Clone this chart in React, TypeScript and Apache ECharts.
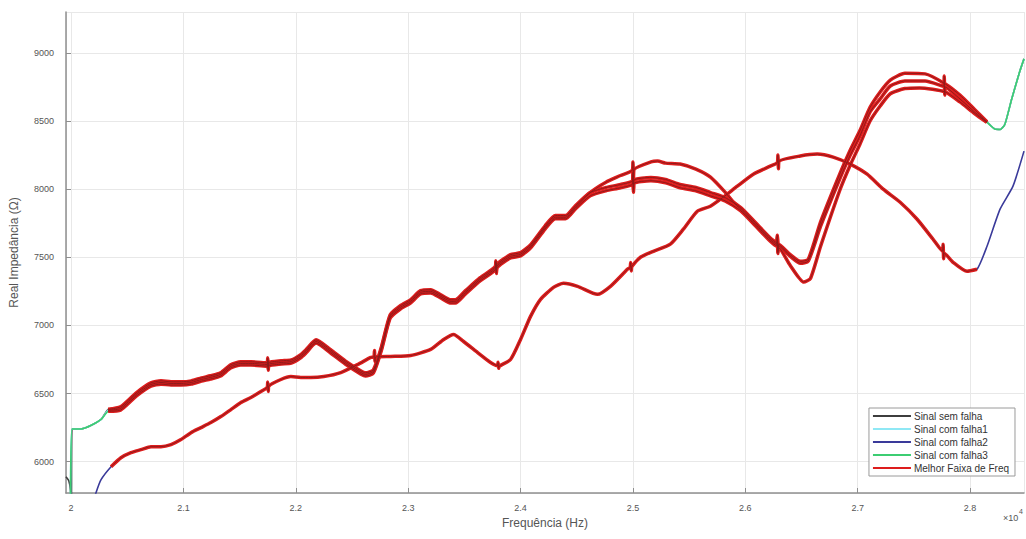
import React, { useEffect, useRef } from "react";
import * as echarts from "echarts";

// Frequency in units of 10^4 Hz, real impedance in ohms
const semFalha: [number, number][] = [
  [1.9955, 5890], [1.998, 5860], [1.9995, 5790], [2.0003, 5640], [2.0008, 6240], [2.009, 6240], [2.018, 6267], [2.027, 6312],
  [2.033, 6384], [2.044, 6402], [2.058, 6505], [2.071, 6578], [2.08, 6593], [2.089, 6586], [2.098, 6586], [2.107, 6593],
  [2.116, 6615], [2.124, 6630], [2.133, 6652], [2.142, 6711], [2.151, 6733], [2.16, 6733], [2.1745, 6725], [2.175, 6762],
  [2.1755, 6695], [2.176, 6727], [2.187, 6740], [2.196, 6747], [2.204, 6784], [2.209, 6821], [2.218, 6894], [2.231, 6821],
  [2.244, 6740], [2.258, 6666], [2.262, 6652], [2.269, 6674], [2.276, 6836], [2.284, 7078], [2.293, 7144], [2.302, 7188],
  [2.311, 7255], [2.32, 7262], [2.329, 7225], [2.338, 7188], [2.342, 7188], [2.351, 7255], [2.364, 7350], [2.3775, 7432],
  [2.378, 7475], [2.3785, 7405], [2.379, 7447], [2.391, 7519], [2.4, 7534], [2.409, 7593], [2.422, 7733], [2.431, 7806],
  [2.44, 7806], [2.449, 7880], [2.462, 7975], [2.476, 8012], [2.489, 8034], [2.4995, 8060], [2.5, 8122], [2.5005, 8002],
  [2.501, 8067], [2.516, 8086], [2.529, 8071], [2.542, 8034], [2.556, 8012], [2.569, 7975], [2.582, 7938], [2.596, 7865],
  [2.609, 7755], [2.622, 7644], [2.628, 7607], [2.6285, 7662], [2.629, 7552], [2.6295, 7597], [2.64, 7519], [2.649, 7470],
  [2.656, 7485], [2.667, 7760], [2.684, 8110], [2.693, 8280], [2.702, 8430], [2.711, 8600], [2.72, 8713], [2.729, 8800],
  [2.742, 8850], [2.76, 8846], [2.778, 8772], [2.791, 8690], [2.804, 8585], [2.815, 8495], [2.822, 8441], [2.827, 8438],
  [2.831, 8476], [2.837, 8660], [2.844, 8858], [2.848, 8956],
];

const comFalha1: [number, number][] = [
  [1.9995, 5600], [2.0008, 6240], [2.009, 6240], [2.018, 6267], [2.027, 6312], [2.033, 6378], [2.044, 6390], [2.058, 6493],
  [2.071, 6566], [2.08, 6581], [2.089, 6574], [2.098, 6574], [2.107, 6581], [2.116, 6603], [2.124, 6618], [2.133, 6640],
  [2.142, 6699], [2.151, 6721], [2.16, 6721], [2.1745, 6713], [2.175, 6750], [2.1755, 6683], [2.176, 6715], [2.187, 6728],
  [2.196, 6735], [2.204, 6772], [2.209, 6809], [2.218, 6882], [2.231, 6809], [2.244, 6728], [2.258, 6654], [2.262, 6640],
  [2.269, 6662], [2.276, 6824], [2.284, 7066], [2.293, 7132], [2.302, 7176], [2.311, 7243], [2.32, 7250], [2.329, 7213],
  [2.338, 7176], [2.342, 7176], [2.351, 7243], [2.364, 7338], [2.3775, 7420], [2.378, 7463], [2.3785, 7393], [2.379, 7435],
  [2.391, 7507], [2.4, 7522], [2.409, 7581], [2.422, 7721], [2.431, 7794], [2.44, 7794], [2.449, 7868], [2.462, 7975],
  [2.476, 8051], [2.489, 8100], [2.4995, 8140], [2.5, 8200], [2.5005, 8080], [2.501, 8145], [2.516, 8200], [2.522, 8206],
  [2.529, 8191], [2.542, 8184], [2.556, 8147], [2.569, 8088], [2.582, 7978], [2.591, 7890], [2.596, 7853], [2.609, 7743],
  [2.622, 7632], [2.628, 7595], [2.6285, 7650], [2.629, 7540], [2.6295, 7585], [2.64, 7507], [2.649, 7456], [2.656, 7471],
  [2.667, 7728], [2.684, 8074], [2.693, 8243], [2.702, 8390], [2.711, 8566], [2.72, 8662], [2.729, 8757], [2.742, 8794],
  [2.76, 8794], [2.7765, 8755], [2.777, 8830], [2.7775, 8690], [2.778, 8750], [2.791, 8662], [2.804, 8566], [2.815, 8493],
  [2.822, 8441], [2.827, 8438], [2.831, 8476], [2.837, 8660], [2.844, 8858], [2.848, 8956],
];

const comFalha2: [number, number][] = [
  [2.0178, 5650], [2.0222, 5772], [2.0267, 5868], [2.0356, 5963], [2.0444, 6029], [2.0533, 6066], [2.0622, 6088],
  [2.0711, 6110], [2.08, 6110], [2.0889, 6125], [2.0978, 6162], [2.1067, 6213], [2.1156, 6250], [2.1244, 6287],
  [2.1333, 6331], [2.1422, 6382], [2.1511, 6434], [2.16, 6471], [2.1689, 6515], [2.1745, 6545], [2.175, 6585],
  [2.1755, 6515], [2.176, 6555], [2.1867, 6603], [2.1956, 6625], [2.2044, 6618], [2.2133, 6618], [2.2249, 6625],
  [2.24, 6654], [2.2551, 6713], [2.2667, 6765], [2.2695, 6770], [2.27, 6815], [2.2705, 6735], [2.271, 6768],
  [2.2844, 6772], [2.3022, 6779], [2.32, 6824], [2.3316, 6897], [2.3404, 6934], [2.3493, 6882], [2.3618, 6801],
  [2.3733, 6728], [2.3795, 6705], [2.38, 6730], [2.3805, 6685], [2.381, 6700], [2.3911, 6750], [2.4, 6897],
  [2.4089, 7066], [2.4178, 7191], [2.4293, 7279], [2.4382, 7309], [2.4507, 7287], [2.4684, 7228], [2.48, 7287],
  [2.4951, 7412], [2.4975, 7425], [2.498, 7462], [2.4985, 7400], [2.499, 7432], [2.5067, 7500], [2.5182, 7544],
  [2.5333, 7596], [2.5449, 7706], [2.5573, 7838], [2.5689, 7875], [2.5804, 7941], [2.5929, 8022], [2.6071, 8110],
  [2.6222, 8169], [2.6285, 8195], [2.629, 8250], [2.6295, 8150], [2.63, 8205], [2.6489, 8243], [2.664, 8257],
  [2.6782, 8235], [2.6933, 8184], [2.7084, 8110], [2.7227, 8000], [2.7378, 7904], [2.7529, 7779], [2.7671, 7632],
  [2.7755, 7545], [2.776, 7595], [2.7765, 7490], [2.777, 7530], [2.7849, 7463], [2.7973, 7397], [2.8062, 7412],
  [2.8151, 7581], [2.8267, 7853], [2.8382, 8022], [2.848, 8279],
];

const comFalha3: [number, number][] = [
  [1.9995, 5600], [2.0008, 6240], [2.009, 6240], [2.018, 6267], [2.027, 6312], [2.033, 6370], [2.044, 6378], [2.058, 6481],
  [2.071, 6554], [2.08, 6569], [2.089, 6562], [2.098, 6562], [2.107, 6569], [2.116, 6591], [2.124, 6606], [2.133, 6628],
  [2.142, 6687], [2.151, 6709], [2.16, 6709], [2.1745, 6701], [2.175, 6738], [2.1755, 6671], [2.176, 6703], [2.187, 6716],
  [2.196, 6723], [2.204, 6760], [2.209, 6797], [2.218, 6870], [2.231, 6797], [2.244, 6716], [2.258, 6642], [2.262, 6628],
  [2.269, 6650], [2.276, 6812], [2.284, 7054], [2.293, 7120], [2.302, 7164], [2.311, 7231], [2.32, 7238], [2.329, 7201],
  [2.338, 7164], [2.342, 7164], [2.351, 7231], [2.364, 7326], [2.3775, 7408], [2.378, 7451], [2.3785, 7381], [2.379, 7423],
  [2.391, 7495], [2.4, 7510], [2.409, 7569], [2.422, 7709], [2.431, 7782], [2.44, 7782], [2.449, 7856], [2.462, 7951],
  [2.476, 7988], [2.489, 8010], [2.4995, 8036], [2.5, 8098], [2.5005, 7978], [2.501, 8043], [2.516, 8062], [2.529, 8047],
  [2.542, 8010], [2.556, 7988], [2.569, 7951], [2.582, 7914], [2.596, 7841], [2.609, 7731], [2.622, 7620], [2.628, 7583],
  [2.6285, 7638], [2.629, 7528], [2.6295, 7573], [2.64, 7440], [2.652, 7318], [2.658, 7345], [2.667, 7581], [2.684, 7990],
  [2.693, 8170], [2.702, 8330], [2.711, 8500], [2.72, 8610], [2.729, 8700], [2.742, 8738], [2.755, 8743], [2.778, 8713],
  [2.791, 8640], [2.804, 8555], [2.815, 8490], [2.822, 8441], [2.827, 8438], [2.831, 8476], [2.837, 8660], [2.844, 8858],
  [2.848, 8956],
];

const seriesNames = ["Sinal sem falha", "Sinal com falha1", "Sinal com falha2", "Sinal com falha3", "Melhor Faixa de Freq"];
const seriesColors = ["#3d3d3d", "#8fe8f5", "#3a3a9a", "#3ccd72", "#dd1d1d"];
const melhorFaixa: [number, number] = [2.033, 2.815];
const xRange: [number, number] = [1.9955, 2.848];
const yRange: [number, number] = [5770, 9300];

const inFaixa = (d: [number, number][]) => d.filter((p) => p[0] >= melhorFaixa[0] && p[0] <= melhorFaixa[1]);

export default function App() {
  const ref = useRef<HTMLDivElement>(null);
  useEffect(() => {
    if (!ref.current) return;
    const chart = echarts.init(ref.current, null, { renderer: "svg" });
    const curves = [semFalha, comFalha1, comFalha2, comFalha3];
    const common = {
      type: "line",
      symbol: "none",
      showSymbol: false,
      smooth: 0.2,
      silent: true,
      clip: true,
    };
    const font = "'Liberation Sans', Arial, sans-serif";
    const axisColor = "#8f8f8f";
    chart.setOption({
      animation: false,
      backgroundColor: "#ffffff",
      textStyle: { fontFamily: font },
      grid: { left: 65, right: 2, top: 12, bottom: 46, containLabel: false },
      legend: {
        data: seriesNames,
        orient: "vertical",
        right: 11,
        top: 408,
        icon: "path://M0,0 L40,0 L40,2 L0,2 Z",
        itemWidth: 38,
        itemHeight: 12,
        itemGap: 3,
        padding: [3, 6, 3, 4],
        borderColor: "#9a9a9a",
        borderWidth: 1,
        backgroundColor: "#ffffff",
        textStyle: { fontSize: 10, color: "#333", fontFamily: font, padding: [0, 0, 0, -2] },
        selectedMode: false,
      },
      xAxis: {
        type: "value",
        min: xRange[0],
        max: xRange[1],
        splitNumber: 9,
        name: "Frequência (Hz)",
        nameLocation: "middle",
        nameGap: 24,
        nameTextStyle: { fontSize: 12, color: "#555", fontFamily: font },
        axisLine: { show: true, onZero: false, lineStyle: { color: axisColor, width: 1.5 } },
        axisTick: { show: true, inside: true, length: 5, lineStyle: { color: axisColor } },
        axisLabel: {
          color: "#555",
          fontSize: 9,
          margin: 10,
          showMinLabel: false,
          showMaxLabel: false,
          formatter: (v: number) => {
            if (Math.abs(v * 10 - Math.round(v * 10)) > 1e-6) return "";
            return String(Math.round(v * 10) / 10);
          },
        },
        splitLine: { show: true, lineStyle: { color: "#e8e8e8", width: 1 } },
      },
      yAxis: {
        type: "value",
        min: yRange[0],
        max: yRange[1],
        splitNumber: 7,
        name: "Real Impedância (Ω)",
        nameLocation: "middle",
        nameGap: 46,
        nameTextStyle: { fontSize: 12, color: "#555", fontFamily: font },
        axisLine: { show: true, onZero: false, lineStyle: { color: axisColor, width: 1.5 } },
        axisTick: { show: true, inside: true, length: 5, lineStyle: { color: axisColor } },
        axisLabel: {
          color: "#555",
          fontSize: 9,
          margin: 12,
          showMinLabel: false,
          showMaxLabel: false,
          formatter: (v: number) => (Math.abs(v % 500) < 1e-6 ? String(v) : ""),
        },
        splitLine: { show: true, lineStyle: { color: "#e8e8e8", width: 1 } },
      },
      graphic: [
        { type: "text", left: 1003, top: 513, silent: true, style: { text: "×10", fontSize: 9, fill: "#555", fontFamily: font } },
        { type: "text", left: 1019, top: 508, silent: true, style: { text: "4", fontSize: 7, fill: "#555", fontFamily: font } },
      ],
      series: [
        ...curves.map((d, i) => ({
          ...common,
          name: seriesNames[i],
          data: d,
          itemStyle: { color: seriesColors[i] },
          lineStyle: { color: seriesColors[i], width: 1.6 },
        })),
        ...curves.map((d) => ({
          ...common,
          name: seriesNames[4],
          data: inFaixa(d),
          itemStyle: { color: seriesColors[4] },
          lineStyle: { color: seriesColors[4], width: 3.5 },
        })),
        ...curves.map((d) => ({
          ...common,
          name: seriesNames[4],
          data: inFaixa(d),
          itemStyle: { color: seriesColors[4] },
          lineStyle: { color: "#8e1b1b", width: 1 },
        })),
      ],
    });
    return () => chart.dispose();
  }, []);
  return <div ref={ref} style={{ position: "fixed", left: 0, top: 0, width: 1026, height: 539, background: "#fff" }} />;
}
